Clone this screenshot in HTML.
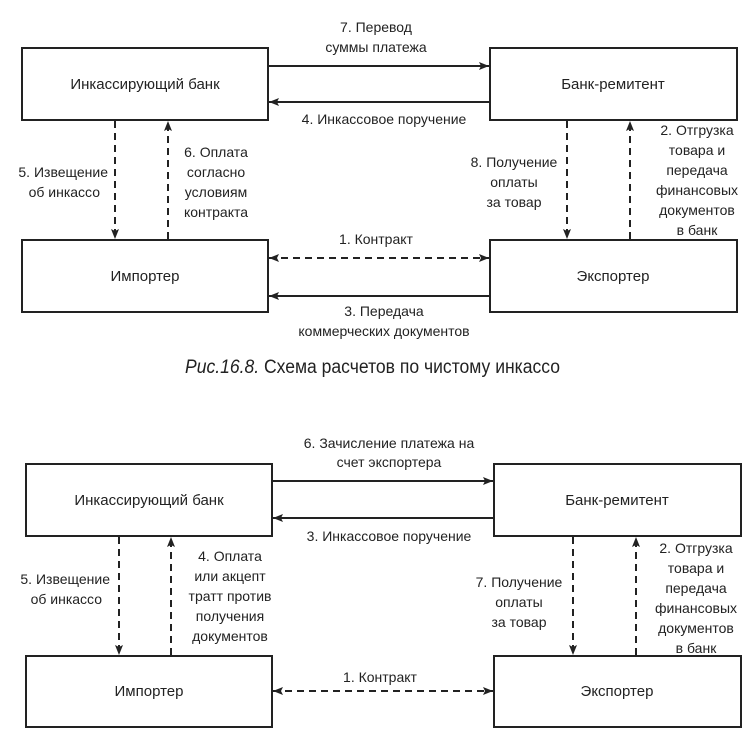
<!DOCTYPE html>
<html><head><meta charset="utf-8"><style>
html,body{margin:0;padding:0;background:#fff;}
svg{display:block;}
text{font-family:"Liberation Sans",sans-serif;font-size:14px;fill:#222;}
.c{text-anchor:middle;}
.r{text-anchor:end;}
.b{font-size:15px;}
</style></head><body>
<svg width="753" height="738" viewBox="0 0 753 738" xmlns="http://www.w3.org/2000/svg">
<defs>
<marker id="a" markerWidth="10" markerHeight="8" refX="10" refY="4" orient="auto" markerUnits="userSpaceOnUse">
<path d="M0,0 L10,4 L0,8 L2,4 Z" fill="#222"/></marker>
<marker id="s" markerWidth="10" markerHeight="8" refX="0" refY="4" orient="auto" markerUnits="userSpaceOnUse">
<path d="M10,0 L0,4 L10,8 L8,4 Z" fill="#222"/></marker>
</defs>
<g fill="none" stroke="#222" stroke-width="2">
<!-- top diagram boxes -->
<rect x="22" y="48" width="246" height="72"/>
<rect x="490" y="48" width="247" height="72"/>
<rect x="22" y="240" width="246" height="72"/>
<rect x="490" y="240" width="247" height="72"/>
<line x1="268" y1="66" x2="489" y2="66" marker-end="url(#a)"/>
<line x1="490" y1="102" x2="269" y2="102" marker-end="url(#a)"/>
<line x1="490" y1="296" x2="269" y2="296" marker-end="url(#a)"/>
<g stroke-dasharray="7,5">
<line x1="115" y1="121" x2="115" y2="239" marker-end="url(#a)"/>
<line x1="168" y1="239" x2="168" y2="121" marker-end="url(#a)"/>
<line x1="567" y1="121" x2="567" y2="239" marker-end="url(#a)"/>
<line x1="630" y1="239" x2="630" y2="121" marker-end="url(#a)"/>
<line x1="269" y1="258" x2="489" y2="258" marker-start="url(#s)" marker-end="url(#a)"/>
</g>
<!-- bottom diagram -->
<rect x="26" y="464" width="246" height="72"/>
<rect x="494" y="464" width="247" height="72"/>
<rect x="26" y="656" width="246" height="71"/>
<rect x="494" y="656" width="247" height="71"/>
<line x1="272" y1="481" x2="493" y2="481" marker-end="url(#a)"/>
<line x1="494" y1="518" x2="273" y2="518" marker-end="url(#a)"/>
<g stroke-dasharray="7,5">
<line x1="119" y1="537" x2="119" y2="655" marker-end="url(#a)"/>
<line x1="171" y1="655" x2="171" y2="537" marker-end="url(#a)"/>
<line x1="573" y1="537" x2="573" y2="655" marker-end="url(#a)"/>
<line x1="636" y1="655" x2="636" y2="537" marker-end="url(#a)"/>
<line x1="273" y1="691" x2="493" y2="691" marker-start="url(#s)" marker-end="url(#a)"/>
</g>
</g>
<!-- top texts -->
<text class="c b" x="145" y="89">Инкассирующий банк</text>
<text class="c b" x="613" y="89">Банк-ремитент</text>
<text class="c b" x="145" y="281">Импортер</text>
<text class="c b" x="613" y="281">Экспортер</text>
<text class="c" x="376" y="32">7. Перевод</text>
<text class="c" x="376" y="52">суммы платежа</text>
<text class="c" x="384" y="124">4. Инкассовое поручение</text>
<text class="r" x="108" y="177">5. Извещение</text>
<text class="r" x="100" y="197">об инкассо</text>
<text class="c" x="216" y="157">6. Оплата</text>
<text class="c" x="216" y="177">согласно</text>
<text class="c" x="216" y="197">условиям</text>
<text class="c" x="216" y="217">контракта</text>
<text class="c" x="514" y="167">8. Получение</text>
<text class="c" x="514" y="187">оплаты</text>
<text class="c" x="514" y="207">за товар</text>
<text class="c" x="697" y="135">2. Отгрузка</text>
<text class="c" x="697" y="155">товара и</text>
<text class="c" x="697" y="175">передача</text>
<text class="c" x="697" y="195">финансовых</text>
<text class="c" x="697" y="215">документов</text>
<text class="c" x="697" y="235">в банк</text>
<text class="c" x="376" y="244">1. Контракт</text>
<text class="c" x="384" y="316">3. Передача</text>
<text class="c" x="384" y="336">коммерческих документов</text>
<text x="185" y="373" style="font-size:19px" textLength="375" lengthAdjust="spacingAndGlyphs"><tspan font-style="italic">Рис.16.8.</tspan> Схема расчетов по чистому инкассо</text>
<!-- bottom texts -->
<text class="c b" x="149" y="505">Инкассирующий банк</text>
<text class="c b" x="617" y="505">Банк-ремитент</text>
<text class="c b" x="149" y="696">Импортер</text>
<text class="c b" x="617" y="696">Экспортер</text>
<text class="c" x="389" y="448">6. Зачисление платежа на</text>
<text class="c" x="389" y="467">счет экспортера</text>
<text class="c" x="389" y="541">3. Инкассовое поручение</text>
<text class="r" x="110" y="584">5. Извещение</text>
<text class="r" x="102" y="604">об инкассо</text>
<text class="c" x="230" y="561">4. Оплата</text>
<text class="c" x="230" y="581">или акцепт</text>
<text class="c" x="230" y="601">тратт против</text>
<text class="c" x="230" y="621">получения</text>
<text class="c" x="230" y="641">документов</text>
<text class="c" x="519" y="587">7. Получение</text>
<text class="c" x="519" y="607">оплаты</text>
<text class="c" x="519" y="627">за товар</text>
<text class="c" x="696" y="553">2. Отгрузка</text>
<text class="c" x="696" y="573">товара и</text>
<text class="c" x="696" y="593">передача</text>
<text class="c" x="696" y="613">финансовых</text>
<text class="c" x="696" y="633">документов</text>
<text class="c" x="696" y="653">в банк</text>
<text class="c" x="380" y="682">1. Контракт</text>
</svg>
</body></html>
